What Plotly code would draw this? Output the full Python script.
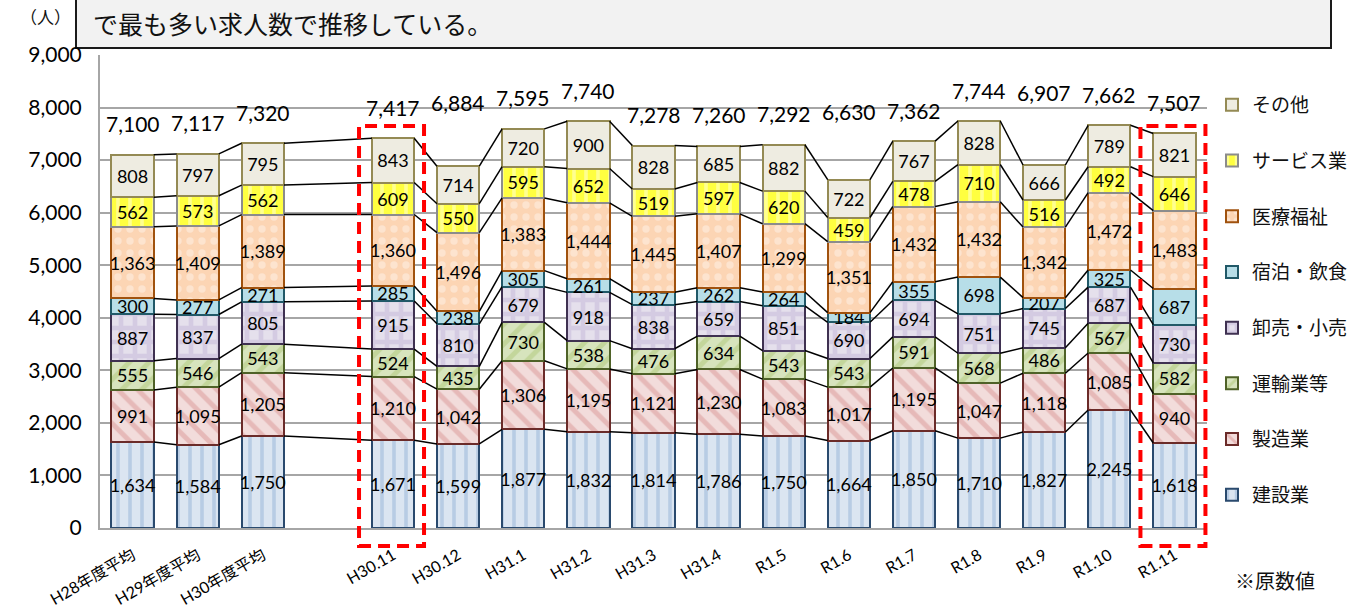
import plotly.graph_objects as go

# ---------------- data ----------------
categories = ["H28年度平均", "H29年度平均", "H30年度平均", "", "H30.11", "H30.12",
              "H31.1", "H31.2", "H31.3", "H31.4", "R1.5", "R1.6", "R1.7", "R1.8",
              "R1.9", "R1.10", "R1.11"]

kensetsu = [1634, 1584, 1750, None, 1671, 1599, 1877, 1832, 1814, 1786, 1750, 1664, 1850, 1710, 1827, 2245, 1618]
seizou = [991, 1095, 1205, None, 1210, 1042, 1306, 1195, 1121, 1230, 1083, 1017, 1195, 1047, 1118, 1085, 940]
unyu = [555, 546, 543, None, 524, 435, 730, 538, 476, 634, 543, 543, 591, 568, 486, 567, 582]
oroshi = [887, 837, 805, None, 915, 810, 679, 918, 838, 659, 851, 690, 694, 751, 745, 687, 730]
shukuhaku = [300, 277, 271, None, 285, 238, 305, 261, 237, 262, 264, 184, 355, 698, 207, 325, 687]
iryou = [1363, 1409, 1389, None, 1360, 1496, 1383, 1444, 1445, 1407, 1299, 1351, 1432, 1432, 1342, 1472, 1483]
service = [562, 573, 562, None, 609, 550, 595, 652, 519, 597, 620, 459, 478, 710, 516, 492, 646]
sonota = [808, 797, 795, None, 843, 714, 720, 900, 828, 685, 882, 722, 767, 828, 666, 789, 821]
totals = [7100, 7117, 7320, None, 7417, 6884, 7595, 7740, 7278, 7260, 7292, 6630, 7362, 7744, 6907, 7662, 7507]

y_ticks = [0, 1000, 2000, 3000, 4000, 5000, 6000, 7000, 8000, 9000]
highlighted = ["H30.11", "R1.11"]

series = [
    ("建設業", kensetsu),
    ("製造業", seizou),
    ("運輸業等", unyu),
    ("卸売・小売", oroshi),
    ("宿泊・飲食", shukuhaku),
    ("医療福祉", iryou),
    ("サービス業", service),
    ("その他", sonota),
]

# ---------------- styles ----------------
styles = {
    "建設業": dict(bg="#dbe5f1", fg="#b8cce4", line="#2a4a6e", shape="|", size=12, solidity=0.3),
    "製造業": dict(bg="#f2dcdb", fg="#e6b9b8", line="#6b2b29", shape="\\", size=14, solidity=0.35),
    "運輸業等": dict(bg="#d7e4bd", fg="#c3d69b", line="#4f6228", shape="/", size=14, solidity=0.35),
    "卸売・小売": dict(bg="#e5e0ec", fg="#d4cbe2", line="#3f3151", shape="+", size=14, solidity=0.55),
    "宿泊・飲食": dict(bg="#b7dee8", fg="#a9d6e2", line="#215968", shape="", size=10, solidity=0.2),
    "医療福祉": dict(bg="#fcd5b4", fg="#fde4cf", line="#a0520e", shape=".", size=12, solidity=0.3),
    "サービス業": dict(bg="#ffff40", fg="#ffff90", line="#8c8c8c", shape="|", size=12, solidity=0.3),
    "その他": dict(bg="#eeece1", fg="#eeece1", line="#948a54", shape="", size=10, solidity=0.2),
}

FONT = "Lato, 'Noto Sans CJK JP', sans-serif"
JFONT = "'Noto Sans CJK JP', sans-serif"

W, H = 1365, 613
ML, MR, MT, MB = 100, 158, 55, 85
PW, PH = W - ML - MR, H - MT - MB


def pxx(px):
    return (px - ML) / PW


def pxy(py):
    return (MT + PH - py) / PH


idx = [i for i, c in enumerate(categories) if c]
labels = [categories[i] for i in idx]

BAR_W = 0.65

fig = go.Figure()

for rank, (name, vals) in enumerate(series):
    st = styles[name]
    xs = [i for i in idx]
    ys = [vals[i] for i in idx]
    fig.add_trace(go.Bar(
        x=xs, y=ys, name=name, width=BAR_W, legendgroup=name,
        legendrank=len(series) - rank,
        marker=dict(
            color=st["bg"],
            line=dict(color=st["line"], width=2),
            pattern=dict(shape=st["shape"], fgcolor=st["fg"], bgcolor=st["bg"],
                         size=st["size"], solidity=st["solidity"], fillmode="replace"),
        ),
        texttemplate="%{y:,}", textposition="inside", insidetextanchor="middle",
        textangle=0,
        textfont=dict(family=FONT, size=18, color="#000000"),
        hoverinfo="skip",
    ))

# connector lines between segment boundaries
cx, cy = [], []
for k in range(len(idx) - 1):
    a, b = idx[k], idx[k + 1]
    cum_a = cum_b = 0
    for name, vals in series:
        cum_a += vals[a]
        cum_b += vals[b]
        cx += [a + BAR_W / 2, b - BAR_W / 2, None]
        cy += [cum_a, cum_b, None]
fig.add_trace(go.Scatter(x=cx, y=cy, mode="lines", line=dict(color="#000000", width=1.5),
                         showlegend=False, hoverinfo="skip"))

# totals above bars
for k, i in enumerate(idx):
    t = totals[i]
    base = t
    if 0 < k < len(idx) - 1:
        lft, rgt = totals[idx[k - 1]], totals[idx[k + 1]]
        if t < min(lft, rgt):
            base = (lft + rgt) / 2
    fig.add_annotation(x=i, y=base, text=f"{t:,}", showarrow=False, yshift=31,
                       font=dict(family=FONT, size=21, color="#000000"))

# header box with text
fig.add_shape(type="rect", xref="paper", yref="paper",
              x0=pxx(76), x1=pxx(1331), y0=pxy(48), y1=pxy(-10),
              line=dict(color="#1a1a1a", width=2), fillcolor="#f2f2f2", layer="below")
fig.add_annotation(xref="paper", yref="paper", x=pxx(91), y=pxy(23), xanchor="left",
                   yanchor="middle", showarrow=False, text="で最も多い求人数で推移している。",
                   font=dict(family=JFONT, size=25, color="#111111"))
fig.add_annotation(xref="paper", yref="paper", x=pxx(45), y=pxy(17), xanchor="center",
                   yanchor="middle", showarrow=False, text="（人）",
                   font=dict(family=JFONT, size=17, color="#111111"))
fig.add_annotation(xref="paper", yref="paper", x=pxx(1233), y=pxy(580), xanchor="left",
                   yanchor="middle", showarrow=False, text="※原数値",
                   font=dict(family=JFONT, size=20, color="#111111"))

# red dashed highlight boxes
for cat in highlighted:
    i = categories.index(cat)
    cxp = ML + (i + 0.5) * PW / len(categories)
    fig.add_shape(type="rect", xref="paper", yref="paper",
                  x0=pxx(cxp - 34), x1=pxx(cxp + 31),
                  y0=pxy(546), y1=pxy(126),
                  line=dict(color="#ff0000", width=4, dash="12px,7px"),
                  fillcolor="rgba(0,0,0,0)", layer="above")

fig.update_layout(
    width=W, height=H,
    margin=dict(l=ML, r=MR, t=MT, b=MB, autoexpand=False),
    barmode="stack",
    plot_bgcolor="#ffffff", paper_bgcolor="#ffffff",
    uniformtext=dict(minsize=18, mode="show"),
    font=dict(family=FONT, color="#000000"),
    legend=dict(
        x=pxx(1212), y=pxy(86), xanchor="left", yanchor="top",
        traceorder="grouped", tracegroupgap=28,
        font=dict(family=JFONT, size=19, color="#111111"),
        bgcolor="rgba(0,0,0,0)",
    ),
    showlegend=True,
)

fig.update_xaxes(
    range=[-0.5, len(categories) - 0.5],
    tickmode="array", tickvals=idx, ticktext=labels, tickangle=-30,
    tickfont=dict(family=FONT, size=16, color="#000000"),
    showgrid=False, zeroline=False,
    showline=True, linecolor="#a6a6a6", linewidth=2,
    ticks="", ticklabelstandoff=10, automargin=False,
)
fig.update_yaxes(
    range=[0, 9000], tickmode="array", tickvals=y_ticks,
    ticktext=[f"{v:,}" for v in y_ticks],
    tickfont=dict(family=FONT, size=21, color="#000000"),
    showgrid=True, gridcolor="#a6a6a6", gridwidth=1.5,
    zeroline=False, showline=True, linecolor="#a6a6a6", linewidth=2,
    ticks="", ticklabelstandoff=12, automargin=False,
)

fig.write_html("out.html", config={"displayModeBar": False},
               post_script="document.body.style.margin='0px';")
